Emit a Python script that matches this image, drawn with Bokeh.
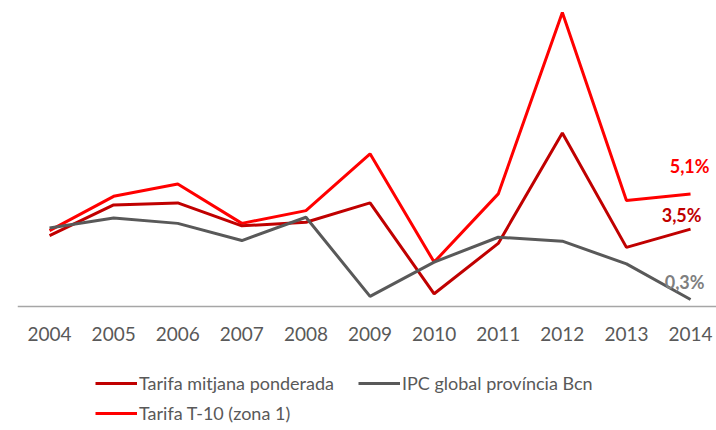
from bokeh.plotting import figure
from bokeh.models import Range1d, FixedTicker, Legend, LegendItem
from bokeh.core.properties import value
from bokeh.embed import file_html
from bokeh.resources import INLINE

years = [2004, 2005, 2006, 2007, 2008, 2009, 2010, 2011, 2012, 2013, 2014]
tarifa_mitjana = [3.20, 4.60, 4.69, 3.65, 3.81, 4.69, 0.56, 2.85, 7.87, 2.67, 3.50]
ipc_bcn = [3.55, 4.00, 3.76, 2.98, 4.04, 0.44, 2.00, 3.13, 2.95, 1.92, 0.30]
tarifa_t10 = [3.43, 4.99, 5.55, 3.76, 4.34, 6.92, 2.00, 5.10, 13.35, 4.80, 5.10]

series_names = ["Tarifa mitjana ponderada", "IPC global província Bcn", "Tarifa T-10 (zona 1)"]
series_colors = ["#C00000", "#595959", "#FF0000"]
label_colors = ["#C00000", "#7F7F7F", "#FF0000"]

FONT = "Lato"
W, H = 716, 428
px_per_year = 64.1
px_per_pct = 22.0
left_border = 17
top_border = 8
frame_w = W - left_border
frame_h = H - top_border
x0 = 2003.5
zero_px = 297.6  # distance of 0% below frame top

p = figure(width=W, height=H, output_backend="svg", toolbar_location=None,
           x_range=Range1d(x0, x0 + frame_w / px_per_year),
           y_range=Range1d(-(frame_h - zero_px) / px_per_pct, zero_px / px_per_pct),
           min_border_left=left_border, min_border_right=0,
           min_border_top=top_border, min_border_bottom=0)
p.outline_line_color = None
p.xgrid.visible = False
p.ygrid.visible = False
p.yaxis.visible = False
p.background_fill_color = "white"
p.border_fill_color = "white"

ax = p.xaxis[0]
ax.fixed_location = 0
ax.ticker = FixedTicker(ticks=years)
ax.major_tick_line_color = None
ax.minor_tick_line_color = None
ax.axis_line_color = "#A6A6A6"
ax.axis_line_width = 1.3
ax.major_label_text_font = FONT
ax.major_label_text_font_size = "19px"
ax.major_label_text_color = "#595959"
ax.major_label_standoff = 15

r_t10 = p.line(years, tarifa_t10, line_color=series_colors[2], line_width=3)
r_mit = p.line(years, tarifa_mitjana, line_color=series_colors[0], line_width=3)
r_ipc = p.line(years, ipc_bcn, line_color=series_colors[1], line_width=3)

last_vals = [tarifa_mitjana[-1], ipc_bcn[-1], tarifa_t10[-1]]
labels = [("%.1f%%" % v).replace(".", ",") for v in last_vals]
x_offs = [11, 14, 19]
y_offs = [-14, -18, -28]
for i in range(3):
    p.text(x=[years[-1]], y=[last_vals[i]], text=[labels[i]], text_align="right",
           text_baseline="middle", x_offset=x_offs[i], y_offset=y_offs[i],
           text_font=value(FONT), text_font_style="bold", text_font_size="18px",
           text_color=label_colors[i])

def mk_legend(items, loc):
    return Legend(items=items, location=loc, orientation="horizontal",
                  glyph_width=42, glyph_height=20, label_standoff=2, spacing=24,
                  padding=0, margin=0, border_line_color=None, background_fill_alpha=0,
                  label_text_font=FONT, label_text_font_size="18px",
                  label_text_color="#595959", label_height=20)

lg1 = mk_legend([LegendItem(label=series_names[0], renderers=[r_mit]),
                 LegendItem(label=series_names[1], renderers=[r_ipc])], (78, 34))
lg2 = mk_legend([LegendItem(label=series_names[2], renderers=[r_t10])], (78, 4))
p.add_layout(lg1)
p.add_layout(lg2)

open("out.html", "w").write(file_html(p, INLINE))
